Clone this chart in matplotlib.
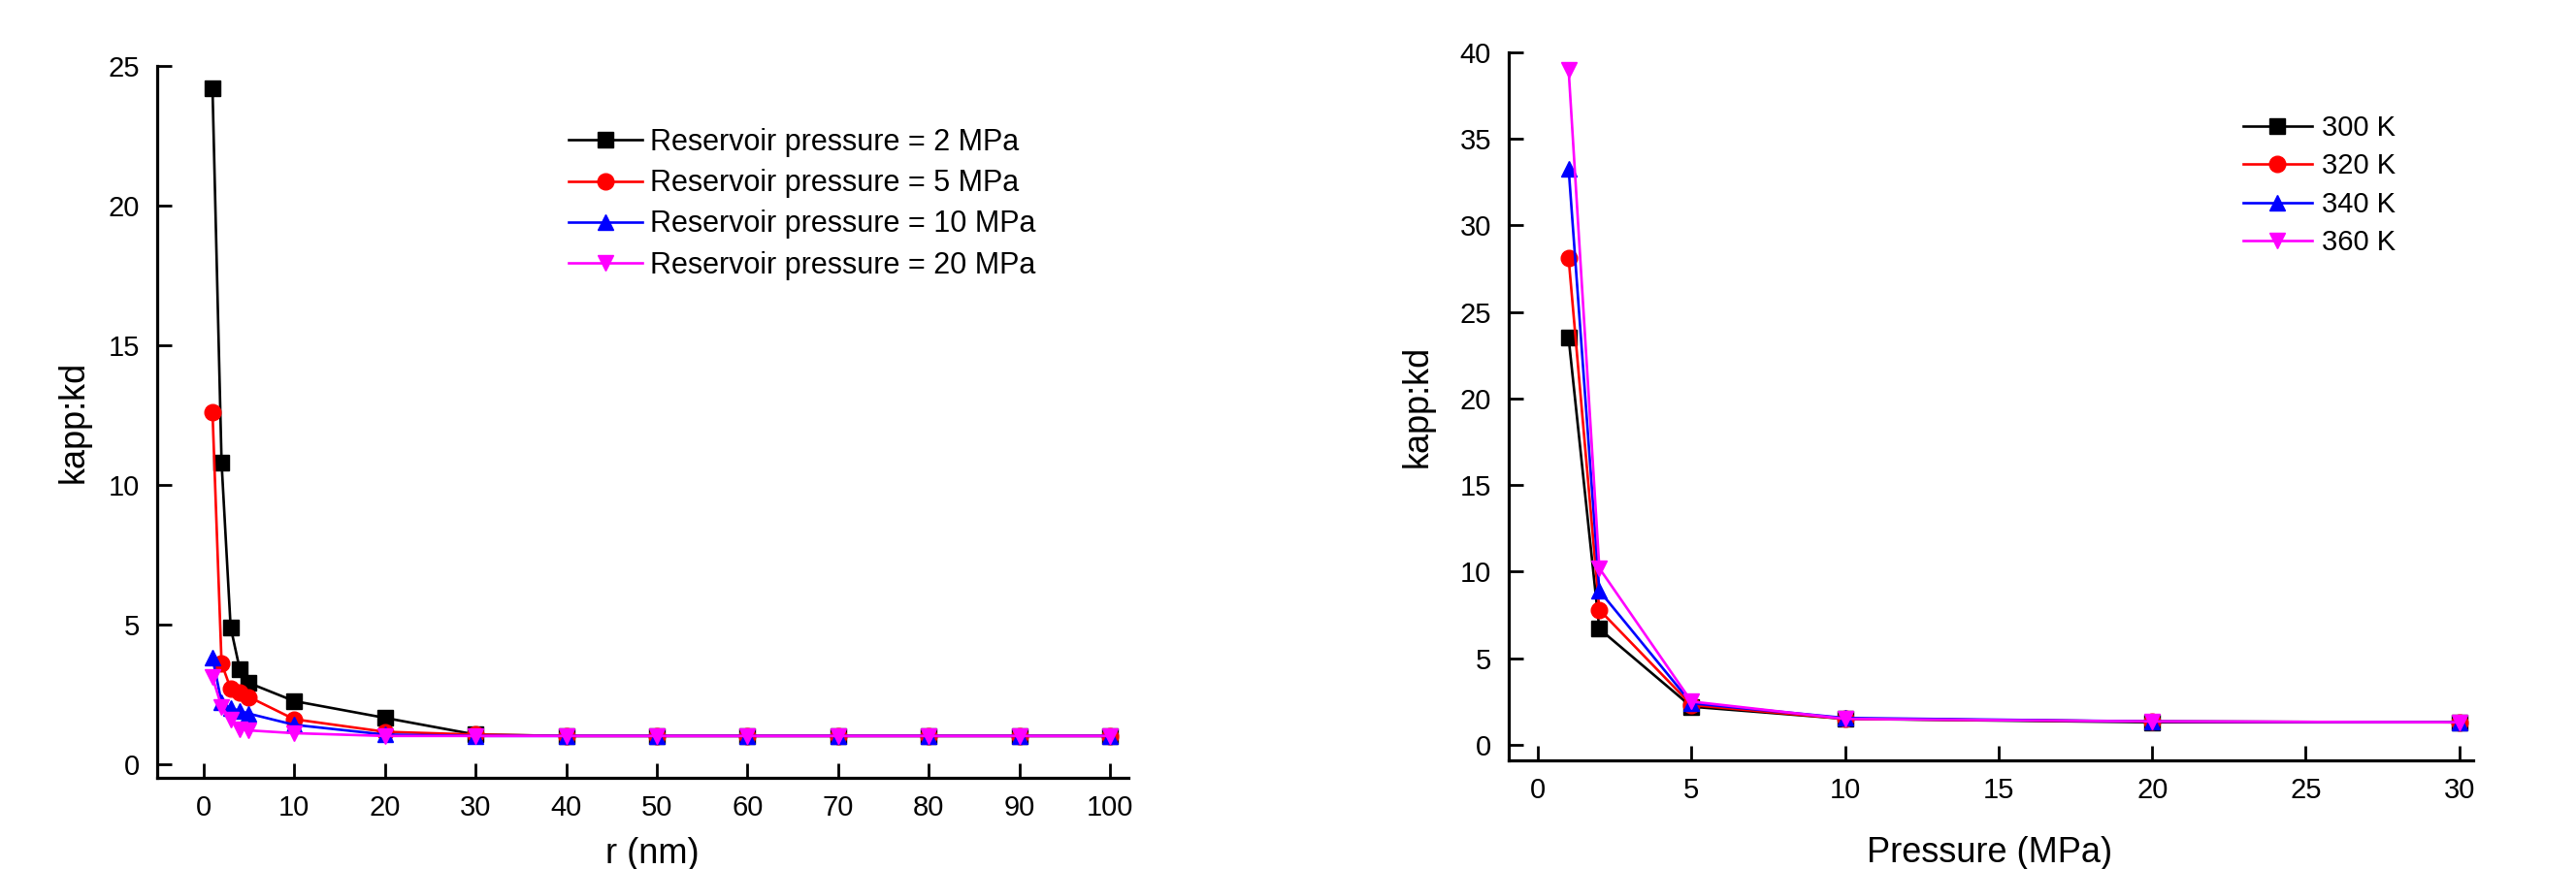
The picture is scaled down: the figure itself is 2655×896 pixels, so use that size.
import matplotlib
matplotlib.use('Agg')
import matplotlib.pyplot as plt

plt.rcParams['font.family'] = ['Liberation Sans', 'DejaVu Sans']

# left panel: kapp/kd vs pore radius
r_nm = [1, 2, 3, 4, 5, 10, 20, 30, 40, 50, 60, 70, 80, 90, 100]
kd_2mpa = [24.2, 10.8, 4.9, 3.4, 2.9, 2.25, 1.65, 1.05, 1.0, 1.0, 1.0, 1.0, 1.0, 1.0, 1.0]
kd_5mpa = [12.6, 3.6, 2.7, 2.55, 2.4, 1.6, 1.15, 1.05, 1.0, 1.0, 1.0, 1.0, 1.0, 1.0, 1.0]
kd_10mpa = [3.8, 2.2, 2.0, 1.9, 1.8, 1.4, 1.05, 1.0, 1.0, 1.0, 1.0, 1.0, 1.0, 1.0, 1.0]
kd_20mpa = [3.1, 2.05, 1.6, 1.25, 1.2, 1.1, 1.0, 1.0, 1.0, 1.0, 1.0, 1.0, 1.0, 1.0, 1.0]
left_labels = ['Reservoir pressure = 2 MPa', 'Reservoir pressure = 5 MPa',
               'Reservoir pressure = 10 MPa', 'Reservoir pressure = 20 MPa']

# right panel: kapp/kd vs pressure
pressure = [1, 2, 5, 10, 20, 30]
kd_300k = [23.5, 6.7, 2.2, 1.5, 1.3, 1.3]
kd_320k = [28.1, 7.8, 2.3, 1.5, 1.35, 1.3]
kd_340k = [33.3, 8.9, 2.4, 1.55, 1.35, 1.3]
kd_360k = [39.0, 10.2, 2.5, 1.5, 1.35, 1.3]
right_labels = ['300 K', '320 K', '340 K', '360 K']

colors = ['black', 'red', 'blue', 'magenta']
markers = ['s', 'o', '^', 'v']

fig = plt.figure(figsize=(26.55, 8.96), dpi=100)
ax1 = fig.add_axes([162/2655, 1-802/896, (1163-162)/2655, (802-68)/896])
ax2 = fig.add_axes([1555/2655, 1-784/896, (2549-1555)/2655, (784-54)/896])


def style(ax):
    for s in ['top', 'right']:
        ax.spines[s].set_visible(False)
    for s in ['left', 'bottom']:
        ax.spines[s].set_linewidth(2.3)
    ax.tick_params(direction='in', length=11, width=2, labelsize=21)
    ax.tick_params(axis='y', pad=13)
    ax.tick_params(axis='x', pad=12)


for ys, c, m, lab in zip([kd_2mpa, kd_5mpa, kd_10mpa, kd_20mpa], colors, markers, left_labels):
    ax1.plot(r_nm, ys, color=c, marker=m, markersize=12, linewidth=1.9, label=lab)
ax1.set_xlim(-5.1, 102)
ax1.set_ylim(-0.5, 25)
ax1.set_xticks(range(0, 101, 10))
ax1.set_yticks(range(0, 26, 5))
style(ax1)
ax1.set_ylabel('kapp:kd', fontsize=26)
ax1.yaxis.set_label_coords(-0.068, 0.5)
ax1.set_xlabel('r (nm)', fontsize=26)
ax1.xaxis.set_label_coords(0.51, -0.083)
ax1.legend(loc='upper left', bbox_to_anchor=(586/2655, 1-132/896), bbox_transform=fig.transFigure,
           frameon=False, fontsize=22, handlelength=2.48, handletextpad=0.26, labelspacing=0.4,
           borderaxespad=0, borderpad=0)

for ys, c, m, lab in zip([kd_300k, kd_320k, kd_340k, kd_360k], colors, markers, right_labels):
    ax2.plot(pressure, ys, color=c, marker=m, markersize=12, linewidth=1.9, label=lab)
ax2.set_xlim(-0.95, 30.45)
ax2.set_ylim(-0.9, 40)
ax2.set_xticks(range(0, 31, 5))
ax2.set_yticks(range(0, 41, 5))
style(ax2)
ax2.set_ylabel('kapp:kd', fontsize=26)
ax2.yaxis.set_label_coords(-0.077, 0.5)
ax2.set_xlabel('Pressure (MPa)', fontsize=26)
ax2.xaxis.set_label_coords(0.499, -0.107)
ax2.legend(loc='upper left', bbox_to_anchor=(2312/2655, 1-118/896), bbox_transform=fig.transFigure,
           frameon=False, fontsize=21, handlelength=2.43, handletextpad=0.34, labelspacing=0.39,
           borderaxespad=0, borderpad=0)

fig.savefig('out.png', dpi=100, facecolor='white')
